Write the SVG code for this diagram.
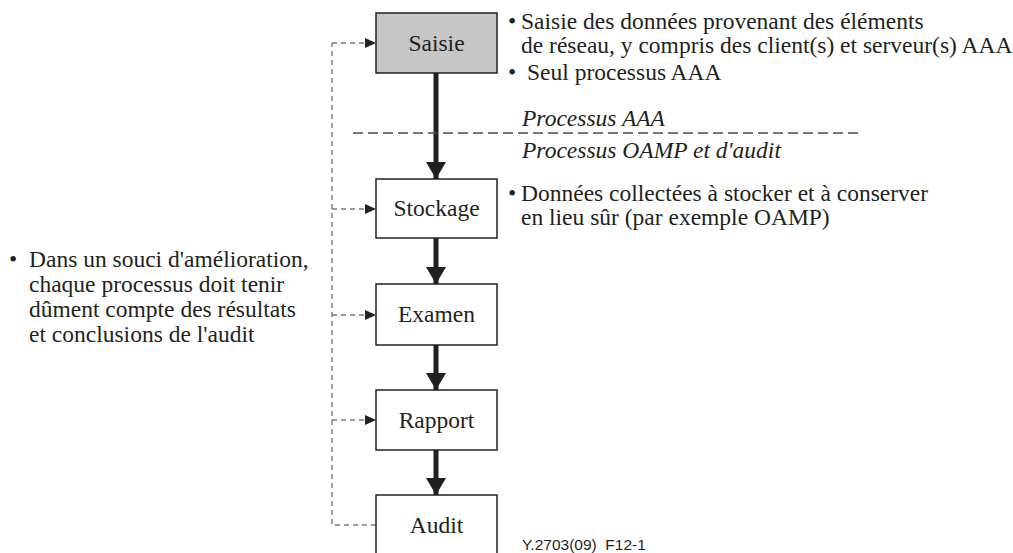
<svg xmlns="http://www.w3.org/2000/svg" width="1013" height="553" viewBox="0 0 1013 553">
  <style>
    .box { fill: #ffffff; stroke: #231f20; stroke-width: 1.5; }
    .box.grey { fill: #c6c6c6; }
    text { font-family: "Liberation Serif", "Times New Roman", Times, "DejaVu Serif", serif; font-size: 23.5px; fill: #231f20; }
    .lbl { text-anchor: middle; }
    .ital { font-style: italic; }
    .flow { stroke: #231f20; stroke-width: 5; fill: none; }
    .fb { stroke: #7a7a7a; stroke-width: 1.4; stroke-dasharray: 5 4; fill: none; }
    .sep { stroke: #4a4a4a; stroke-width: 1.3; stroke-dasharray: 10 5; fill: none; }
    text.ref { font-family: "Liberation Sans", Arial, sans-serif; font-size: 15.5px; white-space: pre; }
  </style>
  <defs>
    <marker id="bigHead" markerUnits="userSpaceOnUse" markerWidth="17" markerHeight="20" refX="17" refY="10" orient="auto" viewBox="0 0 17 20">
      <path d="M0,0 L17,10 L0,20 Z" fill="#231f20"/>
    </marker>
    <marker id="smallHead" markerUnits="userSpaceOnUse" markerWidth="11" markerHeight="10" refX="11" refY="5" orient="auto" viewBox="0 0 11 10">
      <path d="M0,0 L11,5 L0,10 Z" fill="#231f20"/>
    </marker>
  </defs>

  <!-- connectors -->
  <g id="connectors">
    <!-- main flow -->
    <line class="flow" x1="436" y1="73" x2="436" y2="179" marker-end="url(#bigHead)"/>
    <line class="flow" x1="436" y1="238" x2="436" y2="284" marker-end="url(#bigHead)"/>
    <line class="flow" x1="436" y1="345" x2="436" y2="390" marker-end="url(#bigHead)"/>
    <line class="flow" x1="436" y1="450" x2="436" y2="495" marker-end="url(#bigHead)"/>
    <!-- audit feedback loop -->
    <path class="fb" d="M376,525 H332 V43"/>
    <line class="fb" x1="332" y1="43" x2="376" y2="43" marker-end="url(#smallHead)"/>
    <line class="fb" x1="332" y1="209" x2="376" y2="209" marker-end="url(#smallHead)"/>
    <line class="fb" x1="332" y1="315" x2="376" y2="315" marker-end="url(#smallHead)"/>
    <line class="fb" x1="332" y1="420" x2="376" y2="420" marker-end="url(#smallHead)"/>
  </g>

  <!-- boundary between AAA and OAMP processes -->
  <g id="boundary">
    <line class="sep" x1="353" y1="133" x2="858" y2="133"/>
    <text class="ital" x="522" y="126">Processus AAA</text>
    <text class="ital" x="522" y="158">Processus OAMP et d'audit</text>
  </g>

  <g id="saisie">
    <rect class="box grey" x="376" y="13" width="121" height="60"/>
    <text class="lbl" x="436.5" y="51">Saisie</text>
  </g>
  <g id="stockage">
    <rect class="box" x="376" y="179" width="121" height="59"/>
    <text class="lbl" x="436.5" y="216">Stockage</text>
  </g>
  <g id="examen">
    <rect class="box" x="376" y="284" width="121" height="61"/>
    <text class="lbl" x="436.5" y="322">Examen</text>
  </g>
  <g id="rapport">
    <rect class="box" x="376" y="390" width="121" height="60"/>
    <text class="lbl" x="436.5" y="428">Rapport</text>
  </g>
  <g id="audit">
    <rect class="box" x="376" y="495" width="121" height="62"/>
    <text class="lbl" x="436.5" y="533">Audit</text>
  </g>

  <!-- notes -->
  <g id="note-saisie">
    <text x="508" y="29">•</text>
    <text x="521" y="29">Saisie des données provenant des éléments</text>
    <text x="521" y="53">de réseau, y compris des client(s) et serveur(s) AAA</text>
    <text x="508" y="80">•</text>
    <text x="527" y="80">Seul processus AAA</text>
  </g>
  <g id="note-stockage">
    <text x="508" y="201">•</text>
    <text x="521" y="201">Données collectées à stocker et à conserver</text>
    <text x="521" y="225">en lieu sûr (par exemple OAMP)</text>
  </g>
  <g id="note-audit">
    <text x="9" y="267">•</text>
    <text x="29" y="267">Dans un souci d'amélioration,</text>
    <text x="29" y="292">chaque processus doit tenir</text>
    <text x="29" y="317">dûment compte des résultats</text>
    <text x="29" y="342">et conclusions de l'audit</text>
  </g>

  <text class="ref" x="522" y="550" xml:space="preserve">Y.2703(09)  F12-1</text>
</svg>
